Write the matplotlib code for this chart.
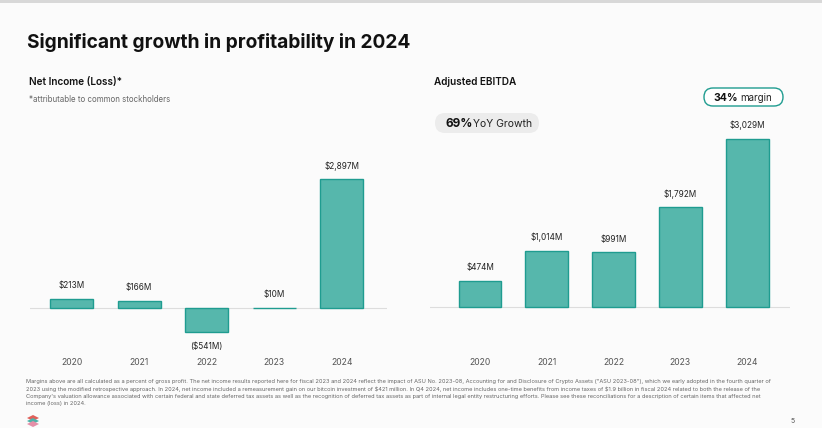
import numpy as np
import matplotlib.pyplot as plt
from matplotlib.patches import FancyBboxPatch, Polygon

plt.rcParams['font.family'] = ['Inter', 'DejaVu Sans']

years = ['2020', '2021', '2022', '2023', '2024']
net_income = [213, 166, -541, 10, 2897]
net_labels = ['\\$213M', '\\$166M', '(\\$541M)', '\\$10M', '\\$2,897M']
ebitda = [474, 1014, 991, 1792, 3029]
ebitda_labels = ['\\$474M', '\\$1,014M', '\\$991M', '\\$1,792M', '\\$3,029M']

FILL = '#56b7ac'
EDGE = '#1f9c90'
W, H = 822, 428

footnote = (
    "Margins above are all calculated as a percent of gross profit. The net income results reported here for fiscal 2023 and 2024 reflect the impact of ASU No. 2023-08, Accounting for and Disclosure of Crypto Assets (\"ASU 2023-08\"), which we early adopted in the fourth quarter of\n"
    "2023 using the modified retrospective approach. In 2024, net income included a remeasurement gain on our bitcoin investment of \\$421 million. In Q4 2024, net income includes one-time benefits from income taxes of \\$1.9 billion in fiscal 2024 related to both the release of the\n"
    "Company's valuation allowance associated with certain federal and state deferred tax assets as well as the recognition of deferred tax assets as part of internal legal entity restructuring efforts. Please see these reconciliations for a description of certain items that affected net\n"
    "income (loss) in 2024."
)

fig = plt.figure(figsize=(W / 100, H / 100), dpi=100, facecolor='#fbfbfb')


def px_axes(x0, y0, x1, y1):
    # axes from pixel box (top-left origin)
    return fig.add_axes([x0 / W, 1 - y1 / H, (x1 - x0) / W, (y1 - y0) / H])


def bar_panel(ax, vals, labels, xlim, ylim, w):
    x = np.arange(len(vals))
    ax.bar(x, vals, width=w, color=FILL, edgecolor=EDGE, linewidth=1.0, zorder=3)
    ax.axhline(0, color='#dddddd', lw=0.8, zorder=2)
    for i, (v, lab) in enumerate(zip(vals, labels)):
        if v >= 0:
            ax.annotate(lab, (i, v), xytext=(0, 6), textcoords='offset points',
                        ha='center', va='bottom', fontsize=5.9, color='#222222')
        else:
            ax.annotate(lab, (i, v), xytext=(0, -7), textcoords='offset points',
                        ha='center', va='top', fontsize=5.9, color='#222222')
    ax.set_xlim(*xlim)
    ax.set_ylim(*ylim)
    ax.set_xticks(x)
    ax.set_xticklabels(years, fontsize=6.2, color='#555555')
    ax.tick_params(axis='x', length=0, pad=4)
    ax.set_yticks([])
    for s in ax.spines.values():
        s.set_visible(False)
    ax.patch.set_alpha(0)


ax1 = px_axes(30, 160, 387, 352)
bar_panel(ax1, net_income, net_labels, (-0.614, 4.667),
          ((308 - 352) / 0.0445, (308 - 160) / 0.0445), 0.636)

ax2 = px_axes(430, 130, 790, 352)
bar_panel(ax2, ebitda, ebitda_labels, (-0.749, 4.644),
          ((307 - 352) / 0.0556, (307 - 130) / 0.0556), 0.644)

# overlay in pixel coordinates for the slide text
ov = fig.add_axes([0, 0, 1, 1], zorder=-1)
ov.set_xlim(0, W)
ov.set_ylim(H, 0)
ov.axis('off')

ov.add_patch(plt.Rectangle((0, 0), W, 3, facecolor='#d8d8d8', edgecolor='none'))

ov.text(27, 42, 'Significant growth in profitability in 2024',
        fontsize=13.8, fontweight='bold', va='center', color='#111111')
ov.text(29, 82, 'Net Income (Loss)*', fontsize=7.2,
        fontweight='semibold', va='center', color='#111111')
ov.text(29, 99, '*attributable to common stockholders',
        fontsize=5.7, va='center', color='#666666')
ov.text(434, 82, 'Adjusted EBITDA', fontsize=7.2,
        fontweight='semibold', va='center', color='#111111')

# pills
ov.add_patch(FancyBboxPatch((435, 113), 104, 20,
                            boxstyle='round,pad=0,rounding_size=10',
                            facecolor='#ececec', edgecolor='none'))
ov.text(445, 123.5, '69%', fontsize=8.5, fontweight='bold',
        va='center', color='#111111')
ov.text(473, 123.5, 'YoY Growth', fontsize=7.5, va='center', color='#222222')

ov.add_patch(FancyBboxPatch((704, 88), 79, 18,
                            boxstyle='round,pad=0,rounding_size=9',
                            facecolor='white', edgecolor=EDGE, linewidth=1.0))
ov.text(713, 97.5, '34%', fontsize=7.5, fontweight='bold',
        va='center', color='#111111')
ov.text(740, 97.5, 'margin', fontsize=7, va='center', color='#222222')

# footnote and page number
ov.text(26, 379, footnote, fontsize=4.08, va='top',
        color='#666666', linespacing=1.55)
ov.text(791, 421, '5', fontsize=5, va='center', color='#555555')

# small logo mark
ov.add_patch(Polygon([(27, 418), (33, 415), (39, 418), (33, 421)], facecolor='#e0605a', edgecolor='none'))
ov.add_patch(Polygon([(27, 421), (33, 418), (39, 421), (33, 424)], facecolor='#4fb3a9', edgecolor='none'))
ov.add_patch(Polygon([(27, 424), (33, 421), (39, 424), (33, 427)], facecolor='#e58fa8', edgecolor='none'))

fig.savefig('out.png', dpi=100, facecolor=fig.get_facecolor())
